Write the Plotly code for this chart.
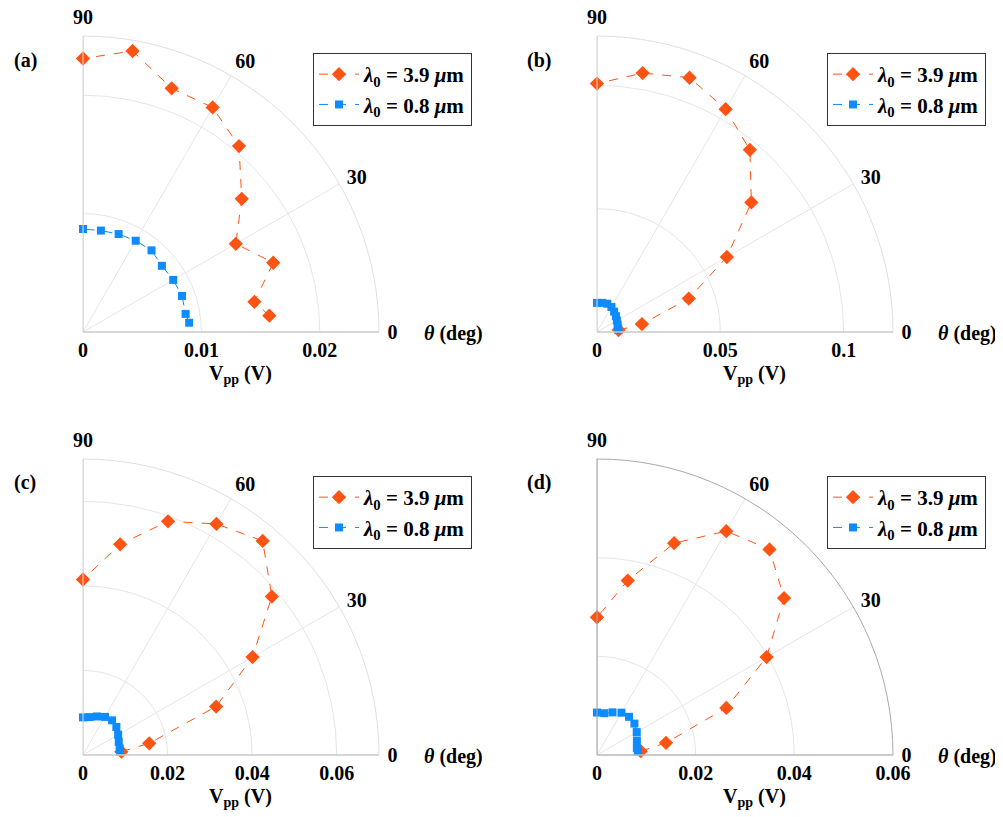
import plotly.graph_objects as go

W, H = 1003, 817
OFF = 8  # page body margin of the browser

# ---------------- data ----------------
theta_deg = [5, 10, 20, 30, 40, 50, 60, 70, 80, 90]

a_39 = [0.0158, 0.0147, 0.0171, 0.0149, 0.0175, 0.0205, 0.0219, 0.0219, 0.0241, 0.0231]
a_08 = [0.0090, 0.0088, 0.0089, 0.0088, 0.0087, 0.0090, 0.0089, 0.0088, 0.0087, 0.0087]

b_39 = [0.0088, 0.0185, 0.0396, 0.0608, 0.0817, 0.0964, 0.1043, 0.1097, 0.1066, 0.1007]
b_08 = [0.0087, 0.0087, 0.0089, 0.0093, 0.0100, 0.0108, 0.0117, 0.0122, 0.0120, 0.0118]

c_39 = [0.0091, 0.0159, 0.0335, 0.0463, 0.0583, 0.0661, 0.0631, 0.0588, 0.0506, 0.0415]
c_08 = [0.0088, 0.0088, 0.0090, 0.0096, 0.0103, 0.0107, 0.0104, 0.0097, 0.0091, 0.0089]

d_39 = [0.0089, 0.0142, 0.0279, 0.0397, 0.0495, 0.0544, 0.0524, 0.0457, 0.0359, 0.0279]
d_08 = [0.0083, 0.0082, 0.0086, 0.0093, 0.0099, 0.0101, 0.0099, 0.0092, 0.0086, 0.0086]

panel_labels = ["(a)", "(b)", "(c)", "(d)"]
series_names = ["<i>λ</i><sub>0</sub> = 3.9 <i>μ</i>m", "<i>λ</i><sub>0</sub> = 0.8 <i>μ</i>m"]
r_max = [0.025, 0.12, 0.07, 0.06]
r_ticks = [[0, 0.01, 0.02], [0, 0.05, 0.1], [0, 0.02, 0.04, 0.06], [0, 0.02, 0.04, 0.06]]
r_ticktext = [["0", "0.01", "0.02"], ["0", "0.05", "0.1"],
              ["0", "0.02", "0.04", "0.06"], ["0", "0.02", "0.04", "0.06"]]
ang_ticks = [0, 30, 60, 90]
ang_ticktext = ["0", "30", "60", "90"]

data39 = [a_39, b_39, c_39, d_39]
data08 = [a_08, b_08, c_08, d_08]

ORANGE = "#ff5314"
BLUE = "#0d8bff"
FONT = "Liberation Serif"

# ---------------- layout geometry (screen pixels) ----------------
origins = [(83, 332), (597, 332), (83, 755), (597, 755)]
RAD = 296

def px(x):
    return (x - OFF) / W

def py(y):
    return (H - (y - OFF)) / H

fig = go.Figure()

for i in range(4):
    sp = "polar" if i == 0 else f"polar{i+1}"
    lg = "legend" if i == 0 else f"legend{i+1}"
    fig.add_trace(go.Scatterpolar(
        r=[0, r_max[i]], theta=[90, 90], mode="lines",
        line=dict(color="#c4c4c4", width=1), showlegend=False,
        hoverinfo="skip", subplot=sp))
    fig.add_trace(go.Scatterpolar(
        r=data39[i], theta=theta_deg, mode="lines+markers", name=series_names[0],
        line=dict(color=ORANGE, width=1, dash="dash"),
        marker=dict(symbol="diamond", size=11, color=ORANGE),
        subplot=sp, legend=lg))
    fig.add_trace(go.Scatterpolar(
        r=data08[i], theta=theta_deg, mode="lines+markers", name=series_names[1],
        line=dict(color=BLUE, width=1, dash="dash"),
        marker=dict(symbol="square", size=8, color=BLUE),
        subplot=sp, legend=lg))

layout = dict(
    width=W, height=H, template="none",
    paper_bgcolor="white", plot_bgcolor="white",
    margin=dict(l=0, r=0, t=0, b=0),
    font=dict(family=FONT, size=20, color="black", weight="bold"),
    annotations=[],
)

for i in range(4):
    ox, oy = origins[i]
    sp = "polar" if i == 0 else f"polar{i+1}"
    lg = "legend" if i == 0 else f"legend{i+1}"
    layout[sp] = dict(
        domain=dict(x=[px(ox), px(ox + RAD)], y=[py(oy), py(oy - RAD)]),
        sector=[0, 90],
        bgcolor="white",
        radialaxis=dict(
            range=[0, r_max[i]], tickvals=r_ticks[i], ticktext=r_ticktext[i],
            angle=0, side="clockwise", tickangle=0, ticks="",
            showline=True, linecolor="#c4c4c4", linewidth=1,
            showgrid=True, gridcolor="#e6e6e6", gridwidth=1,
            tickfont=dict(family=FONT, size=20, color="black", weight="bold"),
        ),
        angularaxis=dict(
            tickvals=ang_ticks, ticktext=ang_ticktext, direction="counterclockwise",
            rotation=0, ticks="outside", ticklen=4, tickcolor="rgba(0,0,0,0)",
            showline=True,
            linecolor="#aaaaaa" if i == 3 else "#e0e0e0", linewidth=1,
            showgrid=True, gridcolor="#e6e6e6", gridwidth=1,
            tickfont=dict(family=FONT, size=20, color="black", weight="bold"),
        ),
    )
    legx, legy = ox + 230, oy - 279
    layout[lg] = dict(
        x=px(legx), y=py(legy), xanchor="left", yanchor="top",
        bgcolor="white", bordercolor="#333333", borderwidth=1,
        font=dict(family=FONT, size=21, color="black", weight="bold"),
        itemwidth=40, tracegroupgap=0,
    )
    layout["annotations"].append(dict(
        text=panel_labels[i], x=px(ox - 58), y=py(oy - 272), xref="paper", yref="paper",
        showarrow=False, xanchor="center", yanchor="middle",
        font=dict(family=FONT, size=20, color="black", weight="bold")))
    layout["annotations"].append(dict(
        text="<i>θ</i> (deg)", x=px(ox + 370), y=py(oy + 1), xref="paper", yref="paper",
        showarrow=False, xanchor="center", yanchor="middle",
        font=dict(family=FONT, size=20, color="black", weight="bold")))
    layout["annotations"].append(dict(
        text="V<sub>pp</sub> (V)", x=px(ox + 157), y=py(oy + 42), xref="paper", yref="paper",
        showarrow=False, xanchor="center", yanchor="middle",
        font=dict(family=FONT, size=20, color="black", weight="bold")))

fig.update_layout(**layout)
fig.write_html("out.html")
